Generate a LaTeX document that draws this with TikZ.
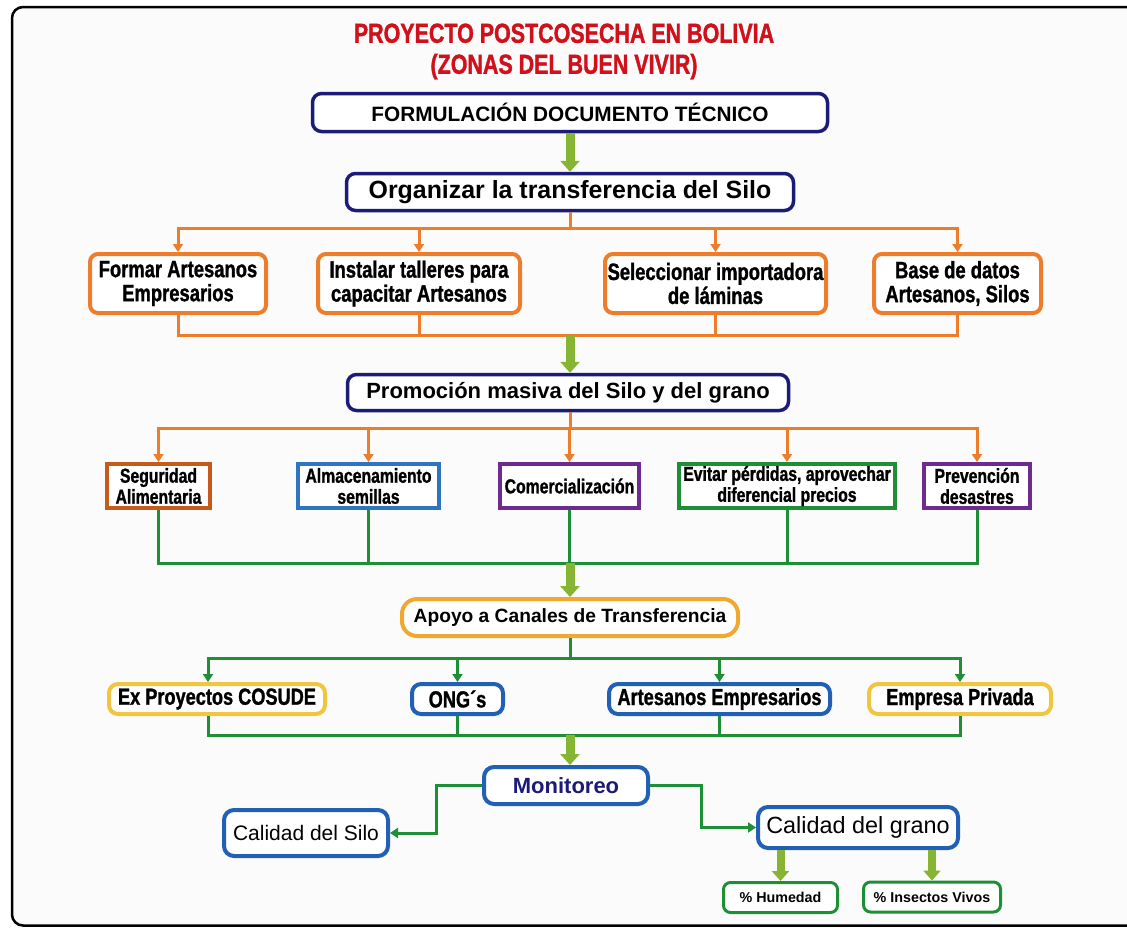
\documentclass[tikz,border=0pt]{standalone}
\usepackage{fontspec}
\setmainfont{Liberation Sans}
\newfontfamily\narrow[FakeStretch=0.78, BoldFeatures={FakeBold=1.2}]{Liberation Sans}
\usetikzlibrary{arrows.meta}
\definecolor{navy}{HTML}{1C1C78}
\definecolor{tred}{HTML}{D0101A}
\definecolor{orng}{HTML}{EE7D2B}
\definecolor{brn}{HTML}{C55A1A}
\definecolor{blu}{HTML}{2160B5}
\definecolor{blu2}{HTML}{2E74C0}
\definecolor{purp}{HTML}{6F2A90}
\definecolor{grn}{HTML}{1E8F35}
\definecolor{lgrn}{HTML}{86B534}
\definecolor{yor}{HTML}{F0A830}
\definecolor{yel}{HTML}{F2C540}
\definecolor{bgc}{HTML}{FBFBFB}
\begin{document}
\begin{tikzpicture}[x=1pt,y=-1pt,
  navybox/.style={draw=navy, line width=3.5pt, rounded corners=9pt, fill=white, inner sep=0pt},
  obox/.style={draw=orng, line width=4pt, rounded corners=8pt, fill=white, inner sep=0pt, align=center,
    minimum height=59pt, font=\narrow\bfseries\fontsize{23.6}{24}\selectfont},
  sqbox/.style={line width=4pt, fill=white, inner sep=0pt, align=center,
    minimum height=44pt, font=\narrow\bfseries\fontsize{20.2}{21}\selectfont},
  rbox/.style={line width=4pt, rounded corners=9pt, fill=white, inner sep=0pt, align=center,
    minimum height=30pt, font=\narrow\bfseries\fontsize{23.3}{24}\selectfont},
  bluebox/.style={draw=blu, line width=4pt, rounded corners=10pt, fill=white, inner sep=0pt},
  pbox/.style={draw=grn, line width=3pt, rounded corners=7pt, fill=white, inner sep=0pt,
    minimum height=30pt, font=\bfseries\fontsize{14.3}{16}\selectfont},
  olink/.style={draw=orng, line width=3pt},
  oarrow/.style={olink, -{Triangle[width=10pt,length=8pt]}},
  glink/.style={draw=grn, line width=3pt},
  garrow/.style={glink, -{Triangle[width=10pt,length=8pt]}},
  blockarrow/.style={draw=lgrn, line width=9pt, -{Triangle[width=19pt,length=11pt]}},
  smallblock/.style={draw=lgrn, line width=8pt, -{Triangle[width=17pt,length=10pt]}}
]
\useasboundingbox (0,0) rectangle (1127,927);
\begin{scope}
\clip (0,0) rectangle (1127,927);
\draw[line width=2.5pt, rounded corners=11pt, fill=bgc] (12,7) rectangle (1200,925.5);
\end{scope}

\node[text=tred, align=center, font=\narrow\bfseries\fontsize{27.5}{31}\selectfont] (title) at (564,51.5)
  {PROYECTO POSTCOSECHA EN BOLIVIA\\(ZONAS DEL BUEN VIVIR)};

\node[navybox, minimum width=515pt, minimum height=38pt, font=\bfseries\fontsize{20.8}{24}\selectfont] (formu) at (570,112.5) {FORMULACIÓN DOCUMENTO TÉCNICO};
\node[navybox, minimum width=447pt, minimum height=37pt, font=\bfseries\fontsize{24.9}{28}\selectfont] (org) at (570,192) {Organizar la transferencia del Silo};
\draw[blockarrow] (formu.south) -- (formu.south |- org.north);

% row 1
\node[obox, minimum width=176pt] (fa) at (178,283.5) {Formar Artesanos\\Empresarios};
\node[obox, minimum width=202pt] (it) at (419,283.5) {Instalar talleres para\\capacitar Artesanos};
\node[obox, minimum width=221pt] (si) at (715.5,283.5) {Seleccionar importadora\\de láminas};
\node[obox, minimum width=167pt] (bd) at (957.5,283.5) {Base de datos\\Artesanos, Silos};
\coordinate (h1) at (570,228);
\coordinate (j1) at (570,335);
\draw[olink] (org.south) -- (h1);
\foreach \n in {fa,it,si,bd} {
  \draw[oarrow] (h1) -| (\n.north);
  \draw[olink] (\n.south) |- (j1);
}

\node[navybox, minimum width=441pt, minimum height=36pt, font=\bfseries\fontsize{22}{26}\selectfont] (prom) at (568,392.5) {Promoción masiva del Silo y del grano};
\draw[blockarrow] (j1) -- (j1 |- prom.north);

% row 2
\node[sqbox, draw=brn, minimum width=103pt] (seg) at (158.5,486) {Seguridad\\Alimentaria};
\node[sqbox, draw=blu2, minimum width=141pt] (alm) at (368.5,486) {Almacenamiento\\semillas};
\node[sqbox, draw=purp, minimum width=139pt] (com) at (569.5,486) {Comercialización};
\node[sqbox, draw=grn, minimum width=216pt] (evi) at (787,486) {Evitar pérdidas, aprovechar\\diferencial precios};
\node[sqbox, draw=purp, minimum width=106pt] (pre) at (977,486) {Prevención\\desastres};
\coordinate (h2) at (570,428);
\coordinate (j2) at (570,563);
\draw[olink] (prom.south -| h2) -- (h2);
\foreach \n in {seg,alm,com,evi,pre} {
  \draw[oarrow] (h2) -| (\n.north);
  \draw[glink] (\n.south) |- (j2);
}

\node[draw=yor, line width=4pt, rounded corners=15pt, fill=white, inner sep=0pt, minimum width=336pt, minimum height=37pt, font=\bfseries\fontsize{19.2}{22}\selectfont] (apo) at (570,617.5) {Apoyo a Canales de Transferencia};
\draw[blockarrow] (j2) -- (apo.north);

% row 3
\node[rbox, draw=yel, minimum width=216pt] (ex) at (217,699) {Ex Proyectos COSUDE};
\node[rbox, draw=blu, minimum width=91pt] (ong) at (457.5,699) {ONG´s};
\node[rbox, draw=blu, minimum width=221pt] (art) at (719.5,699) {Artesanos Empresarios};
\node[rbox, draw=yel, minimum width=182pt] (emp) at (960,699) {Empresa Privada};
\coordinate (h3) at (570,658);
\coordinate (j3) at (570,735);
\draw[glink] (apo.south) -- (h3);
\draw[garrow] (h3) -| ([xshift=-9pt]ex.north);
\draw[glink] ([xshift=-9pt]ex.south) |- (j3);
\foreach \n in {ong,art,emp} {
  \draw[garrow] (h3) -| (\n.north);
  \draw[glink] (\n.south) |- (j3);
}

\node[bluebox, minimum width=164pt, minimum height=37pt, text=navy, font=\bfseries\fontsize{22}{24}\selectfont] (mon) at (566,785.5) {Monitoreo};
\draw[blockarrow] (j3) -- (j3 |- mon.north);

\node[bluebox, minimum width=164pt, minimum height=46pt, font=\fontsize{21}{24}\selectfont] (cs) at (306,833) {Calidad del Silo};
\node[bluebox, minimum width=200pt, minimum height=41pt, font=\fontsize{23.4}{26}\selectfont] (cg) at (858,827.5) {Calidad del grano};
\draw[garrow] (mon.west) -- ++(-46,0) |- (cs.east);
\draw[garrow] (mon.east) -- ++(51,0) |- (cg.west);

\node[pbox, minimum width=114pt] (hum) at (780.5,897.5) {\% Humedad};
\node[pbox, minimum width=137pt] (ins) at (932,897) {\% Insectos Vivos};
\draw[smallblock] (hum.north |- cg.south) -- (hum.north);
\draw[smallblock] (ins.north |- cg.south) -- (ins.north);
\end{tikzpicture}
\end{document}
